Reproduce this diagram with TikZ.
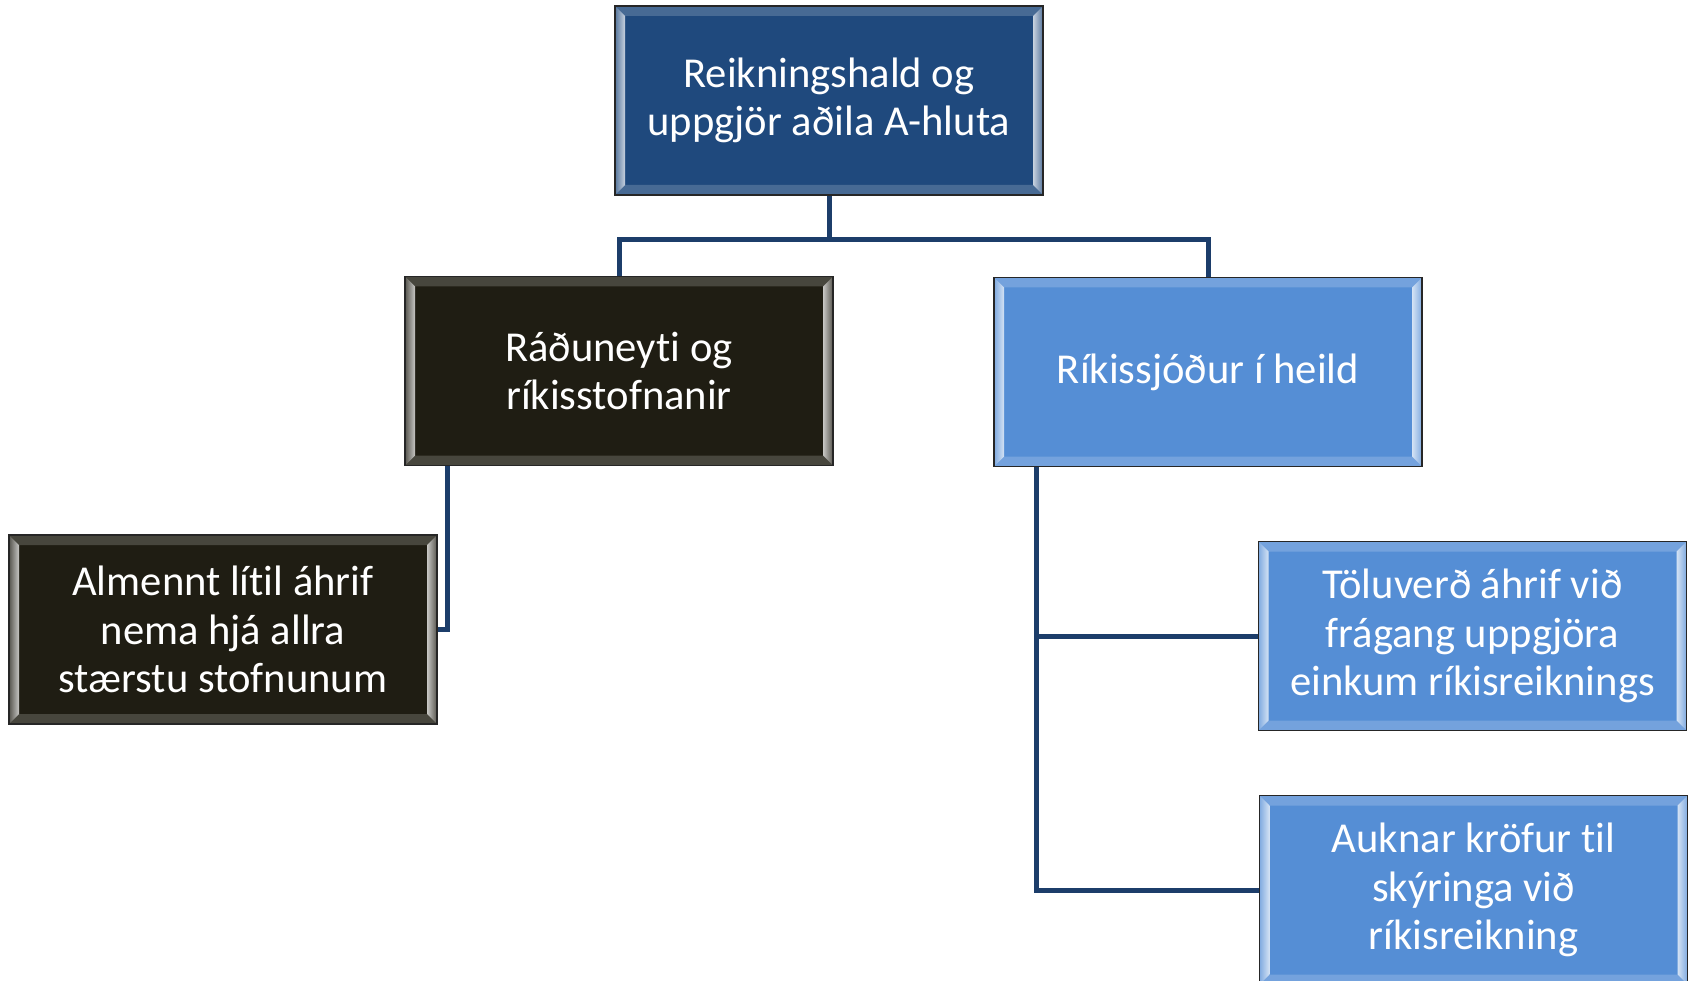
\documentclass[tikz,border=0pt]{standalone}
\usepackage{fontspec}
\setmainfont[RawFeature={-liga;-clig;-dlig}]{Carlito}
\definecolor{topblue}{HTML}{1F497D}
\definecolor{darkbox}{HTML}{1F1D13}
\definecolor{lightblue}{HTML}{558ED5}
\definecolor{linkcol}{HTML}{1C3D6A}
\tikzset{
  bevelbox/.style={
    draw=black!85, line width=1.4pt, fill=#1,
    minimum width=428pt, minimum height=189pt, inner sep=0pt,
    text=white, align=center,
    font=\fontsize{42.6}{48.6}\selectfont,
    path picture={
      \fill[#1!82!white] (path picture bounding box.north west) -- ++(10pt,-10pt) -- ([shift={(-10pt,-10pt)}]path picture bounding box.north east) -- (path picture bounding box.north east) -- cycle;
      \fill[#1!82!white] (path picture bounding box.south west) -- ++(10pt,10pt) -- ([shift={(-10pt,10pt)}]path picture bounding box.south east) -- (path picture bounding box.south east) -- cycle;
      \shade[left color=#1!75!white, right color=#1!25!white] (path picture bounding box.north west) -- ++(10pt,-10pt) -- ([shift={(10pt,10pt)}]path picture bounding box.south west) -- (path picture bounding box.south west) -- cycle;
      \shade[right color=#1!75!white, left color=#1!25!white] (path picture bounding box.north east) -- ++(-10pt,-10pt) -- ([shift={(-10pt,10pt)}]path picture bounding box.south east) -- (path picture bounding box.south east) -- cycle;
    }
  },
  link/.style={draw=linkcol, line width=5pt}
}
\begin{document}
\begin{tikzpicture}[x=1pt,y=1pt]
\useasboundingbox (0,0) rectangle (1692,-981);
\clip (0,0) rectangle (1692,-981);
\fill[white] (0,0) rectangle (1692,-981);
\node[bevelbox=topblue] (top) at (829,-100.5) {Reikningshald og\\uppgjör aðila A-hluta};
\node[bevelbox=darkbox] (leftmid) at (619,-371) {Ráðuneyti og\\ríkisstofnanir};
\node[bevelbox=lightblue] (rightmid) at (1208,-372) {Ríkissjóður í heild};
\node[bevelbox=darkbox] (botleft) at (223,-629.5) {Almennt lítil áhrif\\nema hjá allra\\stærstu stofnunum};
\node[bevelbox=lightblue] (right1) at (1472.5,-636) {Töluverð áhrif við\\frágang uppgjöra\\einkum ríkisreiknings};
\node[bevelbox=lightblue] (right2) at (1473.5,-890) {Auknar kröfur til\\skýringa við\\ríkisreikning};
\coordinate (split) at (829,-240);
\draw[link] (top.south) -- (split) -| (leftmid.north);
\draw[link] (split) -| (rightmid.north);
\draw[link] ([xshift=43pt]leftmid.south west) |- (botleft.east);
\draw[link] ([xshift=43pt]rightmid.south west) |- (right1.west);
\draw[link] ([xshift=43pt]rightmid.south west) |- (right2.west);
\end{tikzpicture}
\end{document}
